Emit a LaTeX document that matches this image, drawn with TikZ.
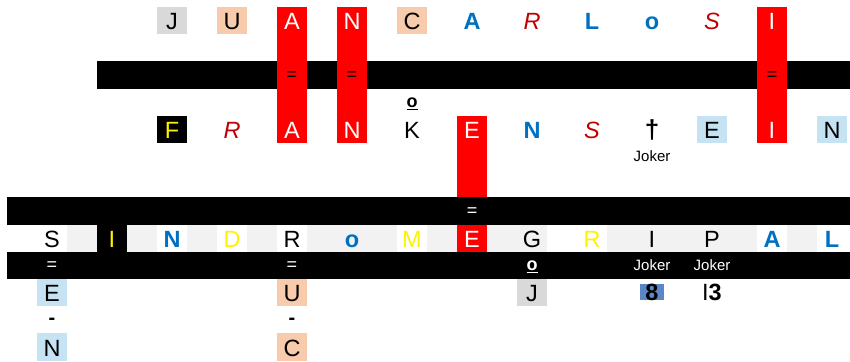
\documentclass[tikz,border=0pt]{standalone}
\usepackage{fontspec}
\setmainfont{Liberation Sans}
\definecolor{cellgray}{HTML}{D9D9D9}
\definecolor{cellpeach}{HTML}{F8CBAD}
\definecolor{cellsky}{HTML}{C5E3F3}
\definecolor{rowgray}{HTML}{F2F2F2}
\definecolor{txtblue}{HTML}{0070C0}
\definecolor{txtred}{HTML}{C00000}
\definecolor{boxblue}{HTML}{5B87C7}
\newcommand{\ordo}{\fontsize{18}{18}\selectfont\underline{\textbf{o}}}
\newcommand{\eqsign}{\fontsize{18}{18}\selectfont =}
\newcommand{\dashsign}{\fontsize{20}{20}\selectfont\textbf{-}}
\tikzset{
    cell/.style={rectangle, inner sep=0pt, minimum width=30pt, minimum height=27.2pt, text height=22.9pt, text depth=4.3pt, font=\fontsize{23.5}{24}\selectfont},
    cell_gray/.style={cell, fill=cellgray},
    cell_peach/.style={cell, fill=cellpeach},
    cell_sky/.style={cell, fill=cellsky},
    cell_black/.style={cell, fill=black, text=yellow},
    cell_red/.style={cell, fill=red, text=white},
    let_blue/.style={cell, text=txtblue, font=\fontsize{23.5}{24}\selectfont\bfseries},
    let_red/.style={cell, text=txtred, font=\fontsize{23.5}{24}\selectfont\itshape},
    let_yellow/.style={cell, text=yellow},
    let_white/.style={cell, text=white},
    note/.style={cell, text height=18.6pt, text depth=8.6pt, font=\fontsize{15}{16}\selectfont},
    digit/.style={anchor=base, inner xsep=5pt, inner ysep=0pt, font=\fontsize{23.5}{24}\selectfont},
    bar/.style={fill=black},
    strip/.style={fill=red}
}
\begin{document}
\begin{tikzpicture}[x=30pt, y=-27.2pt]
    \useasboundingbox (-0.7333,-0.7574) rectangle (27.6,12.515);
    % black bars
    \fill[bar] (2.5,1.5) rectangle (27.6,2.5);
    \fill[bar] (-0.5,6.5) rectangle (27.6,7.5);
    \fill[bar] (-0.5,8.5) rectangle (27.6,9.5);
    % red columns
    \foreach \c in {9,11,25}
        \fill[strip] (\c-0.5,-0.5) rectangle (\c+0.5,4.5);
    \fill[strip] (14.5,3.5) rectangle (15.5,6.5);
    % grey cells of the long row
    \foreach \c in {2,4,6,8,10,11,12,14,16,17,20,21,22,23,24,26}
        \fill[rowgray] (\c-0.5,7.5) rectangle (\c+0.5,8.5);

    % JUAN CARLoS I
    \node (juanJ) [cell_gray] at (5,0) {J};
    \node (juanU) [cell_peach] at (7,0) {U};
    \node (juanA) [let_white] at (9,0) {A};
    \node (juanN) [let_white] at (11,0) {N};
    \node (carlC) [cell_peach] at (13,0) {C};
    \node (carlA) [let_blue] at (15,0) {A};
    \node (carlR) [let_red] at (17,0) {R};
    \node (carlL) [let_blue] at (19,0) {L};
    \node (carlO) [let_blue] at (21,0) {o};
    \node (carlS) [let_red] at (23,0) {S};
    \node (carlI) [let_white] at (25,0) {I};

    \node (eqA) [note] at (9,2) {\eqsign};
    \node (eqN) [note] at (11,2) {\eqsign};
    \node (eqI) [note] at (25,2) {\eqsign};
    \node (ordK) [note] at (13,3) {\ordo};

    % FRANKENSTEIN
    \node (frankF) [cell_black] at (5,4) {F};
    \node (frankR) [let_red] at (7,4) {R};
    \node (frankA) [let_white] at (9,4) {A};
    \node (frankN) [let_white] at (11,4) {N};
    \node (frankK) [cell] at (13,4) {K};
    \node (frankE) [let_white] at (15,4) {E};
    \node (steinN) [let_blue] at (17,4) {N};
    \node (steinS) [let_red] at (19,4) {S};
    \node (steinDag) [cell, font=\fontsize{26}{26}\selectfont\bfseries] at (21,4) {†};
    \node (steinE) [cell_sky] at (23,4) {E};
    \node (steinI) [let_white] at (25,4) {I};
    \node (steinN2) [cell_sky] at (27,4) {N};
    \node (jokerDag) [note] at (21,5) {Joker};

    \node (eqE) [note, text=white] at (15,7) {\eqsign};

    % SINDRoME GRIPAL
    \node (sindS) [cell] at (1,8) {S};
    \node (sindI) [cell_black] at (3,8) {I};
    \node (sindN) [let_blue] at (5,8) {N};
    \node (sindD) [let_yellow] at (7,8) {D};
    \node (sindR) [cell] at (9,8) {R};
    \node (sindO) [let_blue] at (11,8) {o};
    \node (sindM) [let_yellow] at (13,8) {M};
    \node (sindE) [cell_red] at (15,8) {E};
    \node (gripG) [cell] at (17,8) {G};
    \node (gripR) [let_yellow] at (19,8) {R};
    \node (gripI) [cell] at (21,8) {I};
    \node (gripP) [cell] at (23,8) {P};
    \node (gripA) [let_blue] at (25,8) {A};
    \node (gripL) [let_blue] at (27,8) {L};

    \node (eqS) [note, text=white] at (1,9) {\eqsign};
    \node (eqR) [note, text=white] at (9,9) {\eqsign};
    \node (ordG) [note, text=white] at (17,9) {\ordo};
    \node (jokerI) [note, text=white] at (21,9) {Joker};
    \node (jokerP) [note, text=white] at (23,9) {Joker};

    \node (enE) [cell_sky] at (1,10) {E};
    \node (ucU) [cell_peach] at (9,10) {U};
    \node (gjJ) [cell_gray] at (17,10) {J};
    \node (ipEight) [digit, fill=boxblue] at (21,10.272) {\textbf{8}};
    \node (ipThree) [digit] at (23,10.272) {I\textbf{3}};
    \node (dashS) [note] at (1,11) {\dashsign};
    \node (dashR) [note] at (9,11) {\dashsign};
    \node (enN) [cell_sky] at (1,12) {N};
    \node (ucC) [cell_peach] at (9,12) {C};
\end{tikzpicture}
\end{document}
